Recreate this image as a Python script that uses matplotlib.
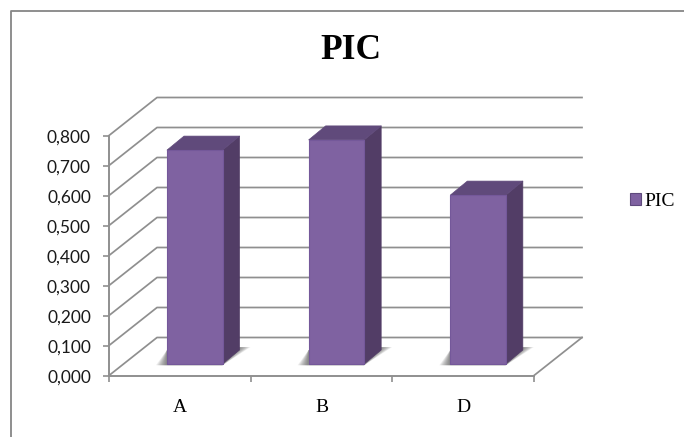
import matplotlib
matplotlib.use('Agg')
import matplotlib.pyplot as plt
from matplotlib.lines import Line2D
from matplotlib.patches import Patch, Polygon
from matplotlib.transforms import ScaledTranslation

categories = ['A', 'B', 'D']
pic_values = [0.713, 0.747, 0.563]
y_ticks = [0.0, 0.1, 0.2, 0.3, 0.4, 0.5, 0.6, 0.7, 0.8]
series_name = 'PIC'

W, H = 684, 437
LINE = '#8f8f8f'
FRONT = '#7f62a1'
SIDE = '#523d66'
TOP = '#604a7b'

plt.rcParams['font.family'] = ['Liberation Serif', 'DejaVu Serif']

fig = plt.figure(figsize=(W / 100, H / 100), dpi=100)

# plot area in pixels, 3d look is faked with an offset in data units
left, right, zero, top = 109, 534, 375.5, 135.5
ax = fig.add_axes([left / W, 1 - zero / H, (right - left) / W, (zero - top) / H])
ax.set_xlim(0, len(categories))
ax.set_ylim(0, 0.8)
ax.patch.set_visible(False)

px_x = len(categories) / (right - left)
px_y = 0.8 / (zero - top)
depth_x = 48 * px_x
depth_y = 38 * px_y

# walls
for v in y_ticks:
    ax.plot([0, depth_x, len(categories) + depth_x], [v, v + depth_y, v + depth_y],
            color=LINE, lw=1.25, clip_on=False, zorder=1)
ax.plot([len(categories), len(categories) + depth_x], [0, depth_y],
        color=LINE, lw=1.25, clip_on=False, zorder=1)

# bars
bar_w = 55.5 * px_x
side_x = 17 * px_x
side_y = 14 * px_y
base = 11.5 * px_y
offset = 58 * px_x
for i, v in enumerate(pic_values):
    x0 = i + offset
    x1 = x0 + bar_w
    y0 = base
    y1 = base + v
    # soft shadow on the floor
    for k in range(10):
        grow = (10 - k) * 1.1 * px_x
        ax.add_patch(Polygon([(x0 - grow, y0 - 1.2 * px_y), (x1, y0 - 1.2 * px_y),
                              (x1 + side_x + grow, y0 + side_y + 3 * px_y),
                              (x0, y0 + side_y)],
                             closed=True, fc='#444444', ec='none', alpha=0.09, zorder=2))
    ax.add_patch(Polygon([(x1, y0), (x1 + side_x, y0 + side_y), (x1 + side_x, y1 + side_y), (x1, y1)],
                         closed=True, fc=SIDE, ec=SIDE, lw=0.5, joinstyle='round', zorder=3, clip_on=False))
    ax.add_patch(Polygon([(x0, y1), (x1, y1), (x1 + side_x, y1 + side_y), (x0 + side_x, y1 + side_y)],
                         closed=True, fc=TOP, ec=TOP, lw=0.5, joinstyle='round', zorder=3, clip_on=False))
    ax.add_patch(Polygon([(x0, y0), (x1, y0), (x1, y1), (x0, y1)],
                         closed=True, fc=FRONT, ec='#74589a', lw=0.8, joinstyle='round', zorder=4, clip_on=False))

# axes
for s in ['top', 'right']:
    ax.spines[s].set_visible(False)
for s in ['left', 'bottom']:
    ax.spines[s].set_color(LINE)
    ax.spines[s].set_linewidth(1.4)
    ax.spines[s].set_zorder(5)

ax.set_yticks(y_ticks)
ax.set_yticklabels([f'{v:.3f}'.replace('.', ',') for v in y_ticks], fontsize=12.5,
                   family=['Lato', 'DejaVu Sans'], color='#1a1a1a')
ax.tick_params(axis='y', length=4.5, width=1.2, color=LINE, pad=8.5)
# labels sit one pixel under their ticks
for lab in ax.get_yticklabels():
    lab.set_transform(lab.get_transform() + ScaledTranslation(0, -0.01, fig.dpi_scale_trans))

ax.set_xticks(range(len(categories) + 1))
ax.set_xticklabels([])
ax.set_xticks([i + 0.5 for i in range(len(categories))], labels=categories, minor=True)
ax.tick_params(axis='x', which='major', length=4.5, width=1.2, color=LINE)
ax.tick_params(axis='x', which='minor', length=0, pad=17, labelsize=14)

fig.text(351 / W, 1 - 58.5 / H, series_name, fontsize=25.5, fontweight='bold', ha='center', va='baseline')

handle = Patch(fc=FRONT, ec='#5f4a7d', lw=0.8)
fig.legend([handle], [series_name], loc='center left', bbox_to_anchor=(630 / W, 1 - 201.5 / H),
           frameon=False, fontsize=14, handlelength=0.54, handleheight=0.56,
           handletextpad=0.2, borderpad=0, borderaxespad=0)

# chart frame, only top and left show in the crop
fig.add_artist(Line2D([10.5 / W, 10.5 / W, 1], [0, 1 - 10.5 / H, 1 - 10.5 / H],
                      transform=fig.transFigure, color='#868686', lw=1.3))

fig.savefig('out.png', dpi=100)
